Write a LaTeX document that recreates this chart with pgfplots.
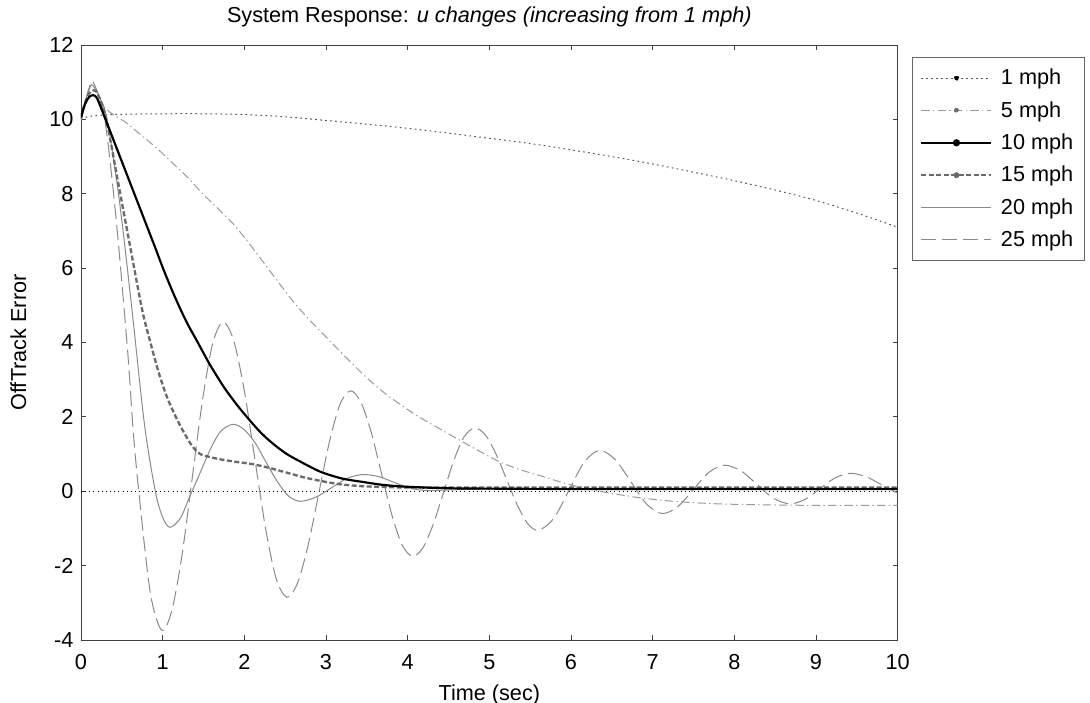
\documentclass[border=0pt]{standalone}
\usepackage{pgfplots}
\pgfplotsset{compat=1.18}
\usepackage{fontspec}
\setmainfont{Liberation Sans}
\definecolor{cA}{HTML}{555555}
\definecolor{cB}{HTML}{9A9A9A}
\definecolor{cD}{HTML}{6A6A6A}
\definecolor{cE}{HTML}{8A8A8A}
\definecolor{cF}{HTML}{8A8A8A}
\begin{document}
\begin{tikzpicture}
\useasboundingbox (-48.6pt,-37.8pt) rectangle (605.4pt,384pt);
\begin{axis}[
  at={(0,0)}, anchor=south west,
  scale only axis, width=490pt, height=357pt,
  xmin=0, xmax=10, ymin=-4, ymax=12,
  xtick={0,1,...,10}, ytick={-4,-2,...,12},
  tick align=inside, major tick length=3pt,
  axis line style={draw=black!75, line width=0.5pt},
  every tick/.style={draw=black!75, line width=0.5pt},
  /pgf/number format/assume math mode=true,
  font=\fontsize{13}{15.6}\selectfont,
  tick label style={font=\fontsize{13}{15.6}\selectfont},
  xticklabel style={yshift=-5pt},
  yticklabel style={xshift=-1pt},
  title={System Response: \textit{u changes (increasing from 1 mph)}},
  title style={yshift=1pt},
  xlabel={Time (sec)}, ylabel={OffTrack Error},
  xlabel style={yshift=-2pt}, ylabel style={yshift=7pt},
  legend style={at={(1.017,0.98)}, anchor=north west, draw=black!60, line width=0.5pt,
     font=\fontsize{13}{15.6}\selectfont, row sep=4.5pt, inner xsep=5pt, inner ysep=5pt,
     cells={anchor=west}, /tikz/every odd column/.append style={column sep=3pt}},
  legend image code/.code={\draw[#1] (0pt,0pt) -- (42pt,0pt);},
]
% zero reference line
\addplot[black, dotted, line width=0.5pt, forget plot] coordinates {(0,0) (10,0)};

% 1 mph
\addplot[cA, line width=0.6pt, dash pattern=on 1pt off 2pt, smooth,
  legend image code/.code={\draw[cA, line width=0.6pt, dash pattern=on 1pt off 2pt] (0pt,0pt) -- (42pt,0pt); \fill[black] (21pt,0pt) circle (1.3pt);}]
coordinates {(0,10.0) (0.1,10.08) (0.3,10.12) (0.6,10.14) (1,10.15) (1.5,10.15) (2,10.13) (2.5,10.07) (3,9.97) (3.5,9.87) (4,9.76) (4.5,9.63) (5,9.49) (5.5,9.35) (6,9.18) (6.5,9.0) (7,8.8) (7.5,8.58) (8,8.35) (8.5,8.1) (9,7.82) (9.5,7.48) (10,7.1)};
\addlegendentry{1 mph}

% 5 mph
\addplot[cB, line width=0.6pt, dash pattern=on 5pt off 2pt on 0.8pt off 2pt, smooth,
  legend image code/.code={\draw[cB, line width=0.6pt, dash pattern=on 5pt off 2pt on 0.8pt off 2pt] (0pt,0pt) -- (42pt,0pt); \fill[cB!70!black] (21pt,0pt) circle (1.2pt);}]
coordinates {(0,10.0) (0.05,10.35) (0.1,10.6) (0.15,10.65) (0.2,10.55) (0.3,10.3) (0.4,10.12) (0.54,9.93) (0.74,9.57) (0.93,9.22) (1.11,8.85) (1.3,8.45) (1.49,8.0) (1.7,7.55) (1.9,7.1) (2.15,6.4) (2.4,5.67) (2.6,5.1) (2.8,4.6) (3.0,4.15) (3.2,3.7) (3.5,3.05) (3.74,2.6) (3.9,2.35) (4.1,2.05) (4.36,1.72) (4.68,1.32) (5.09,0.83) (5.35,0.6) (5.62,0.42) (5.95,0.2) (6.35,0.0) (6.76,-0.15) (7.05,-0.23) (7.37,-0.29) (7.7,-0.33) (7.98,-0.35) (8.5,-0.37) (9,-0.38) (9.5,-0.38) (10,-0.38)};
\addlegendentry{5 mph}

% 25 mph (drawn before thick ones)
\addplot[cF, line width=0.6pt, dash pattern=on 9pt off 3.5pt, smooth, forget plot]
coordinates {(0,10.0) (0.05,10.45) (0.1,10.85) (0.15,11.0) (0.29,10.01) (0.43,7.32) (0.57,3.8) (0.64,1.6) (0.71,-0.06) (0.85,-2.75) (0.99,-3.74) (1.115,-3.185) (1.24,-1.67) (1.365,0.405) (1.49,2.48) (1.615,3.995) (1.74,4.55) (1.87,4.05) (2.0,2.7) (2.13,0.85) (2.26,-1.0) (2.39,-2.35) (2.52,-2.85) (2.65,-2.48) (2.78,-1.46) (2.91,-0.075) (3.04,1.31) (3.17,2.33) (3.30,2.70) (3.427,2.40) (3.553,1.59) (3.68,0.475) (3.807,-0.64) (3.933,-1.45) (4.06,-1.75) (4.187,-1.52) (4.313,-0.89) (4.44,-0.025) (4.567,0.84) (4.693,1.47) (4.82,1.70) (4.95,1.52) (5.08,1.01) (5.21,0.325) (5.34,-0.36) (5.47,-0.87) (5.60,-1.05) (5.7875,-0.735) (5.975,0.025) (6.1625,0.785) (6.35,1.10) (6.5425,0.85) (6.735,0.25) (6.9275,-0.35) (7.12,-0.60) (7.31,-0.41) (7.50,0.05) (7.69,0.51) (7.88,0.70) (8.08,0.55) (8.28,0.18) (8.48,-0.19) (8.68,-0.34) (8.865,-0.22) (9.05,0.07) (9.235,0.36) (9.42,0.48) (9.615,0.39) (9.81,0.165) (10,-0.05)};

% 20 mph
\addplot[cE, line width=0.6pt, smooth, forget plot]
coordinates {(0,10.0) (0.05,10.45) (0.1,10.8) (0.15,10.9) (0.307,10.10) (0.463,7.93) (0.62,4.965) (0.777,1.8) (0.91,0.0) (1.0,-0.7) (1.09,-0.97) (1.218,-0.72) (1.33,-0.15) (1.45,0.45) (1.58,1.11) (1.71,1.61) (1.86,1.80) (1.997,1.66) (2.133,1.30) (2.27,0.765) (2.407,0.25) (2.543,-0.13) (2.68,-0.27) (2.8725,-0.165) (3.065,0.09) (3.2575,0.345) (3.45,0.45) (3.65,0.39) (3.85,0.225) (4.05,0.07) (4.25,0.02) (4.6,0.04) (5,0.06) (6,0.07) (7,0.07) (8,0.07) (9,0.07) (10,0.07)};

% 15 mph
\addplot[cD, line width=1.4pt, dash pattern=on 3pt off 1.5pt, smooth, forget plot]
coordinates {(0,10.05) (0.05,10.45) (0.1,10.7) (0.15,10.78) (0.2,10.7) (0.3,10.1) (0.45,8.36) (0.6,6.6) (0.75,4.87) (0.85,4.0) (0.95,3.2) (1.05,2.55) (1.15,2.05) (1.25,1.62) (1.36,1.22) (1.46,1.0) (1.58,0.92) (1.7,0.86) (1.9,0.79) (2.1,0.73) (2.3,0.63) (2.52,0.5) (2.7,0.39) (2.84,0.32) (3.0,0.25) (3.2,0.18) (3.5,0.13) (4.0,0.1) (5,0.1) (6,0.1) (7,0.1) (8,0.1) (9,0.1) (10,0.1)};

% 10 mph
\addplot[black, line width=1.3pt, smooth,
  legend image code/.code={\draw[black, line width=1.3pt] (0pt,0pt) -- (42pt,0pt); \fill[black] (21pt,0pt) circle (1.5pt);}]
coordinates {(0,10.05) (0.05,10.42) (0.1,10.6) (0.15,10.65) (0.2,10.55) (0.3,10.0) (0.45,9.15) (0.6,8.3) (0.75,7.45) (0.9,6.6) (1.0,6.02) (1.1,5.48) (1.2,4.98) (1.3,4.52) (1.43,4.0) (1.58,3.4) (1.75,2.8) (1.9,2.35) (2.03,2.0) (2.2,1.58) (2.35,1.28) (2.52,1.0) (2.7,0.78) (2.84,0.62) (2.96,0.5) (3.2,0.34) (3.45,0.25) (3.7,0.17) (4.0,0.12) (4.5,0.08) (5,0.07) (6,0.06) (7,0.06) (8,0.06) (9,0.06) (10,0.06)};
\addlegendentry{10 mph}

% legend-only entries for 15, 20, 25 mph
\addlegendimage{legend image code/.code={\draw[cD, line width=1.4pt, dash pattern=on 3pt off 1.5pt] (0pt,0pt) -- (42pt,0pt); \fill[cD] (21pt,0pt) circle (1.5pt);}}
\addlegendentry{15 mph}
\addlegendimage{legend image code/.code={\draw[cE, line width=0.6pt] (0pt,0pt) -- (42pt,0pt);}}
\addlegendentry{20 mph}
\addlegendimage{legend image code/.code={\draw[cF, line width=0.6pt, dash pattern=on 9pt off 3.5pt] (0pt,0pt) -- (42pt,0pt);}}
\addlegendentry{25 mph}
\end{axis}
\end{tikzpicture}
\end{document}
